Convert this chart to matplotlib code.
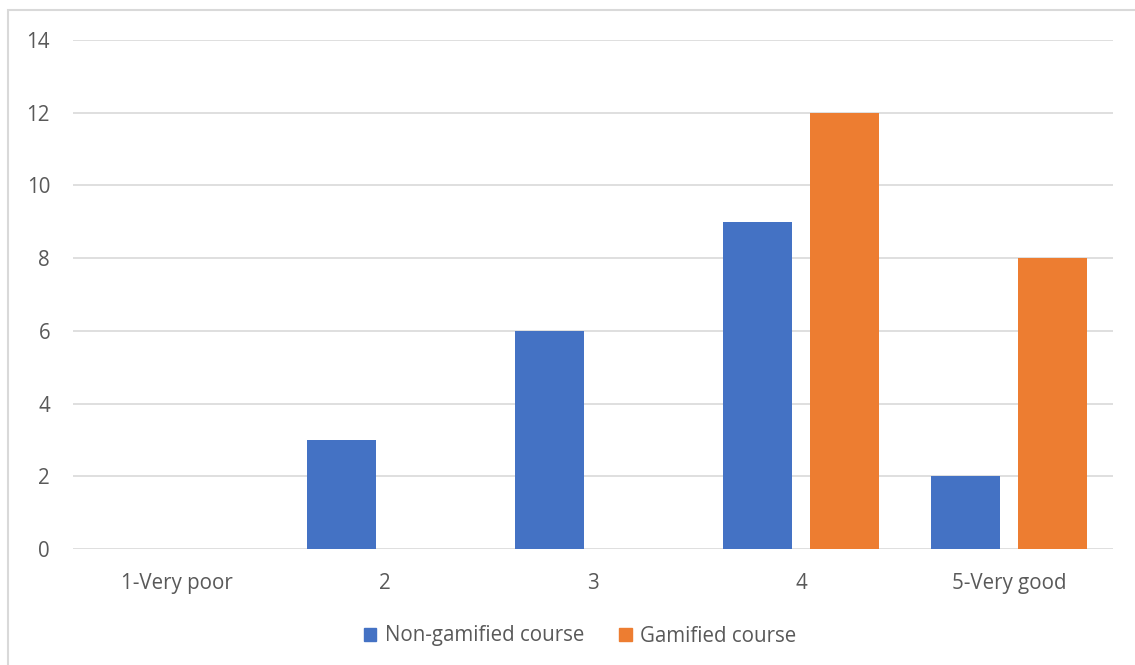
import matplotlib
matplotlib.use("Agg")
import matplotlib.pyplot as plt
import numpy as np
from matplotlib.patches import Rectangle, Patch

categories = ["1-Very poor", "2", "3", "4", "5-Very good"]
non_gamified = [0, 3, 6, 9, 2]
gamified = [0, 0, 0, 12, 8]
series_names = ["Non-gamified course", "Gamified course"]
yticks = [0, 2, 4, 6, 8, 10, 12, 14]

plt.rcParams["font.family"] = ["Open Sans", "DejaVu Sans"]
text_color = "#595959"
grid_color = "#D9D9D9"
blue = "#4472C4"
orange = "#ED7D31"
fs = 14.8

W, H = 1135, 665
fig = plt.figure(figsize=(W / 100, H / 100), dpi=100)
fig.patch.set_facecolor("white")

# outer chart border
fig.patches.append(Rectangle((8 / W, -0.01), 1.02 - 8 / W, 1 - 10 / H + 0.01,
                             transform=fig.transFigure, fill=False,
                             edgecolor=grid_color, linewidth=1.5, zorder=0))

ax = fig.add_axes([73 / W, 1 - 549 / H, (1113 - 73) / W, (549 - 40) / H])
x = np.arange(len(categories))
bw = 0.332
off = 0.207
ax.bar(x - off, non_gamified, bw, color=blue, zorder=3, label=series_names[0])
ax.bar(x + off, gamified, bw, color=orange, zorder=3, label=series_names[1])

ax.set_xlim(-0.5, len(categories) - 0.5)
ax.set_ylim(0, 14)
ax.set_yticks(yticks)
ax.set_xticks(x)
ax.set_xticklabels(categories)
ax.yaxis.grid(True, color=grid_color, linewidth=1.2, zorder=0)
ax.set_axisbelow(True)
for s in ax.spines.values():
    s.set_visible(False)
ax.tick_params(axis="both", length=0, labelsize=fs, colors=text_color)
ax.tick_params(axis="y", pad=16.5)
ax.tick_params(axis="x", pad=17.5)

handles = [Patch(color=blue), Patch(color=orange)]
fig.legend(handles, series_names, loc="center", bbox_to_anchor=(580 / W, 1 - 636 / H),
           ncol=2, frameon=False, fontsize=fs, labelcolor=text_color,
           handlelength=0.62, handleheight=0.62, handletextpad=0.4, columnspacing=1.7)

fig.savefig("out.png", dpi=100, facecolor="white")
